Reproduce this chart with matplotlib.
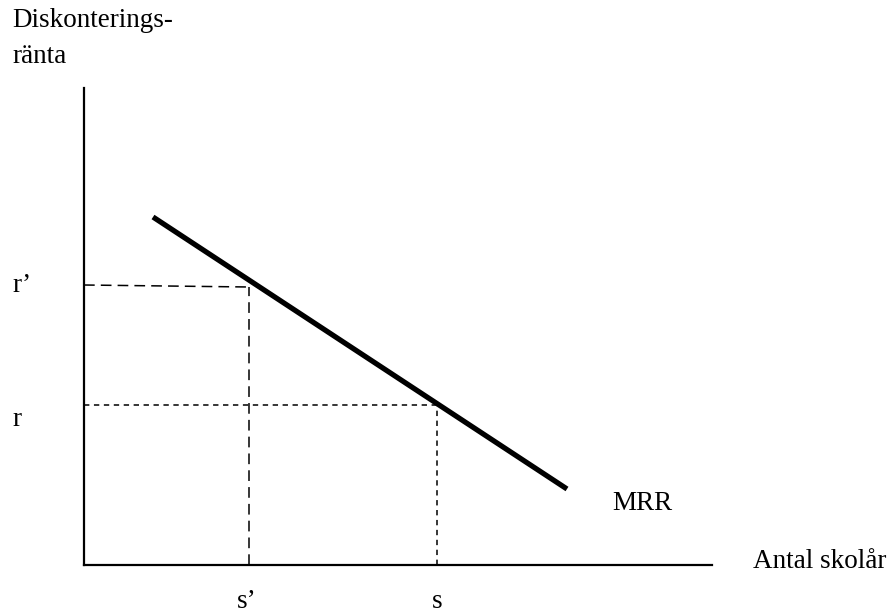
import matplotlib.pyplot as plt

plt.rcParams['font.family'] = ['Liberation Serif', 'DejaVu Serif']
plt.rcParams['font.size'] = 19.5

# schematic values (units: pixels above/right of the origin)
mrr_x = [69, 483]
mrr_y = [348, 76]
s_prime, s_val = 165, 353
r_prime, r_val = 280, 160
x_max, y_max = 628, 477

fig = plt.figure(figsize=(8.89, 6.15), dpi=100)
ax = fig.add_axes([84/889, 50/615, 628/889, 477/615])
ax.set_xlim(0, x_max)
ax.set_ylim(0, y_max)
for sp in ['top', 'right']:
    ax.spines[sp].set_visible(False)
for sp in ['left', 'bottom']:
    ax.spines[sp].set_linewidth(1.6)
ax.set_xticks([])
ax.set_yticks([])

ax.plot(mrr_x, mrr_y, color='black', lw=3.8, solid_capstyle='butt')

# r' / s' guides (long dashes)
ax.plot([0, s_prime], [r_prime, r_prime - 2], color='black', lw=1.1, dashes=(7, 4))
ax.plot([s_prime, s_prime], [0, r_prime - 2], color='black', lw=1.1, dashes=(7, 4))
# r / s guides (short dashes)
ax.plot([0, s_val], [r_val, r_val], color='black', lw=1.1, dashes=(3.5, 3))
ax.plot([s_val, s_val], [0, r_val], color='black', lw=1.1, dashes=(3.5, 3))

ax.text(-72, 538, 'Diskonterings-', ha='left', va='baseline', clip_on=False)
ax.text(-72, 502, 'ränta', ha='left', va='baseline', clip_on=False)
ax.text(-72, r_prime, 'r\u2019', ha='left', va='center', clip_on=False)
ax.text(-72, r_val - 15, 'r', ha='left', va='center', clip_on=False)
ax.text(s_prime - 2, -37, 's\u2019', ha='center', va='center', clip_on=False)
ax.text(s_val, -37, 's', ha='center', va='center', clip_on=False)
ax.text(528, 62, 'MRR', ha='left', va='center', clip_on=False)
ax.text(669, 3, 'Antal skolår', ha='left', va='center', clip_on=False)

fig.savefig('out.png', dpi=100)
